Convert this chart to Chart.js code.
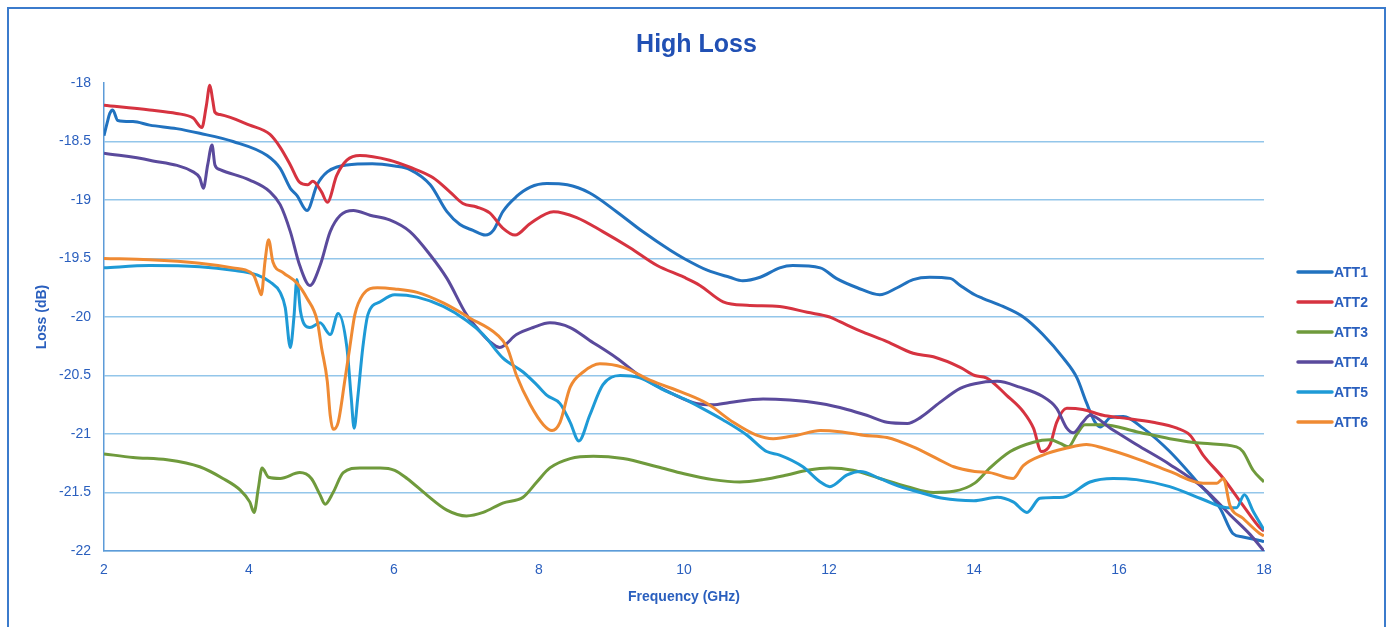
<!DOCTYPE html>
<html>
<head>
<meta charset="utf-8">
<title>High Loss</title>
<script src="https://cdn.jsdelivr.net/npm/chart.js@4.4.1/dist/chart.umd.min.js"></script>
<style>
  html, body { margin: 0; padding: 0; background: #ffffff; }
  #wrap { width: 1393px; height: 627px; }
</style>
</head>
<body>
<div id="wrap"><canvas id="chart" width="1393" height="627"></canvas></div>
<script>
// Measured insertion loss of six attenuators, frequency in GHz, loss in dB.
const seriesNames = ['ATT1', 'ATT2', 'ATT3', 'ATT4', 'ATT5', 'ATT6'];
const xTicks = [2, 4, 6, 8, 10, 12, 14, 16, 18];
const yTicks = [-18, -18.5, -19, -19.5, -20, -20.5, -21, -21.5, -22];

const att1Freq = [2.0, 2.04, 2.08, 2.12, 2.19, 2.4, 2.63, 3.0, 3.32, 3.78, 4.25, 4.43, 4.57, 4.66, 4.8, 4.94, 5.08, 5.35, 5.7, 6.01, 6.22, 6.5, 6.73, 6.91, 7.09, 7.26, 7.37, 7.5, 7.69, 7.88, 8.11, 8.39, 8.7, 9.07, 9.43, 9.81, 10.0, 10.32, 10.63, 10.81, 11.05, 11.32, 11.5, 11.88, 12.1, 12.39, 12.7, 12.94, 13.16, 13.39, 13.67, 13.81, 14.01, 14.12, 14.4, 14.68, 14.95, 15.23, 15.42, 15.55, 15.67, 15.74, 15.88, 16.06, 16.33, 16.7, 17.08, 17.39, 17.57, 17.71, 17.94, 18.0];
const att1Loss = [-18.45, -18.35, -18.26, -18.23, -18.32, -18.33, -18.36, -18.39, -18.43, -18.5, -18.62, -18.73, -18.9, -18.96, -19.09, -18.87, -18.76, -18.7, -18.69, -18.71, -18.74, -18.87, -19.1, -19.21, -19.26, -19.3, -19.26, -19.1, -18.97, -18.89, -18.86, -18.87, -18.94, -19.1, -19.27, -19.43, -19.5, -19.6, -19.66, -19.69, -19.66, -19.58, -19.56, -19.58, -19.67, -19.75, -19.81, -19.75, -19.68, -19.66, -19.67, -19.73, -19.81, -19.84, -19.91, -20.0, -20.15, -20.35, -20.52, -20.73, -20.9, -20.94, -20.86, -20.85, -20.95, -21.15, -21.41, -21.63, -21.85, -21.88, -21.91, -21.92];

const att2Freq = [2.0, 2.63, 3.0, 3.23, 3.35, 3.41, 3.46, 3.5, 3.53, 3.6, 4.01, 4.29, 4.43, 4.57, 4.7, 4.81, 4.88, 5.0, 5.08, 5.21, 5.35, 5.53, 5.94, 6.22, 6.54, 6.77, 6.95, 7.14, 7.32, 7.5, 7.67, 7.88, 8.2, 8.52, 8.88, 9.26, 9.63, 10.0, 10.22, 10.54, 10.87, 11.32, 11.7, 12.01, 12.15, 12.47, 12.8, 13.16, 13.44, 13.81, 14.01, 14.17, 14.45, 14.68, 14.82, 14.93, 15.05, 15.14, 15.28, 15.5, 15.78, 16.01, 16.47, 16.8, 16.98, 17.16, 17.44, 17.71, 17.94, 18.0];
const att2Loss = [-18.19, -18.23, -18.26, -18.3, -18.38, -18.2, -18.02, -18.15, -18.25, -18.27, -18.36, -18.44, -18.55, -18.7, -18.85, -18.87, -18.84, -18.93, -19.02, -18.79, -18.66, -18.62, -18.66, -18.72, -18.81, -18.93, -19.03, -19.06, -19.11, -19.24, -19.3, -19.2, -19.1, -19.15, -19.27, -19.41, -19.56, -19.66, -19.73, -19.87, -19.9, -19.91, -19.96, -20.0, -20.04, -20.13, -20.21, -20.31, -20.34, -20.43, -20.5, -20.52, -20.67, -20.81, -20.95, -21.15, -21.09, -20.9, -20.78, -20.79, -20.84, -20.86, -20.9, -20.95, -21.01, -21.18, -21.38, -21.61, -21.8, -21.83];

const att3Freq = [2.0, 2.4, 2.87, 3.32, 3.64, 3.88, 4.01, 4.07, 4.13, 4.18, 4.27, 4.43, 4.7, 4.86, 4.98, 5.05, 5.16, 5.3, 5.53, 5.81, 6.01, 6.18, 6.45, 6.73, 7.0, 7.23, 7.5, 7.78, 7.97, 8.15, 8.43, 8.75, 9.16, 9.63, 10.0, 10.4, 10.77, 11.09, 11.42, 11.7, 12.01, 12.33, 12.7, 13.08, 13.44, 13.72, 14.01, 14.22, 14.5, 14.82, 15.05, 15.19, 15.3, 15.42, 15.53, 15.78, 16.24, 16.7, 17.16, 17.62, 17.71, 17.85, 18.0];
const att3Loss = [-21.17, -21.2, -21.22, -21.28, -21.38, -21.48, -21.58, -21.67, -21.46, -21.29, -21.37, -21.38, -21.33, -21.38, -21.52, -21.6, -21.5, -21.33, -21.29, -21.29, -21.31, -21.38, -21.52, -21.65, -21.7, -21.67, -21.59, -21.54, -21.41, -21.29, -21.21, -21.19, -21.21, -21.28, -21.34, -21.39, -21.41, -21.39, -21.35, -21.31, -21.29, -21.31, -21.38, -21.45, -21.5, -21.49, -21.42, -21.29, -21.15, -21.07, -21.05, -21.08, -21.11, -21.0, -20.92, -20.92, -20.98, -21.04, -21.08, -21.11, -21.15, -21.31, -21.41];

const att4Freq = [2.0, 2.63, 3.23, 3.32, 3.37, 3.43, 3.49, 3.53, 3.6, 4.01, 4.29, 4.43, 4.57, 4.7, 4.84, 4.98, 5.12, 5.26, 5.44, 5.67, 5.94, 6.22, 6.5, 6.73, 7.0, 7.14, 7.32, 7.46, 7.69, 7.92, 8.15, 8.43, 8.7, 9.07, 9.43, 9.85, 10.17, 10.4, 10.63, 11.09, 11.46, 11.88, 12.25, 12.52, 12.8, 13.08, 13.26, 13.53, 13.81, 14.01, 14.32, 14.63, 14.95, 15.14, 15.28, 15.37, 15.5, 15.6, 15.88, 16.24, 16.7, 17.16, 17.53, 17.81, 18.0];
const att4Loss = [-18.6, -18.66, -18.76, -18.81, -18.9, -18.7, -18.53, -18.7, -18.74, -18.83, -18.93, -19.04, -19.27, -19.56, -19.73, -19.56, -19.27, -19.13, -19.09, -19.13, -19.17, -19.27, -19.47, -19.67, -19.98, -20.09, -20.21, -20.26, -20.15, -20.09, -20.05, -20.09, -20.2, -20.35, -20.52, -20.66, -20.74, -20.75, -20.73, -20.7, -20.71, -20.74, -20.79, -20.84, -20.9, -20.91, -20.86, -20.73, -20.61, -20.57, -20.55, -20.6, -20.68, -20.78, -20.95, -20.99, -20.9, -20.84, -20.95, -21.09, -21.26, -21.46, -21.69, -21.86, -22.0];

const att5Freq = [2.0, 2.63, 3.32, 3.78, 4.11, 4.29, 4.43, 4.5, 4.57, 4.62, 4.66, 4.71, 4.77, 4.84, 4.98, 5.12, 5.23, 5.35, 5.41, 5.45, 5.5, 5.57, 5.64, 5.81, 6.01, 6.32, 6.68, 7.0, 7.23, 7.5, 7.78, 7.97, 8.11, 8.29, 8.43, 8.55, 8.7, 8.88, 9.12, 9.39, 9.71, 10.0, 10.22, 10.54, 10.87, 11.14, 11.32, 11.64, 11.88, 12.01, 12.25, 12.43, 12.7, 12.98, 13.26, 13.57, 14.0, 14.32, 14.54, 14.73, 14.91, 15.23, 15.6, 15.92, 16.24, 16.7, 17.16, 17.49, 17.62, 17.73, 17.85, 18.0];
const att5Loss = [-19.58, -19.56, -19.57, -19.6, -19.64, -19.7, -19.79, -19.92, -20.26, -20.0, -19.68, -19.95, -20.07, -20.09, -20.05, -20.15, -19.97, -20.26, -20.69, -20.95, -20.69, -20.26, -19.98, -19.87, -19.81, -19.83, -19.91, -20.03, -20.15, -20.35, -20.47, -20.58, -20.67, -20.74, -20.9, -21.06, -20.84, -20.58, -20.5, -20.52, -20.62, -20.7, -20.77, -20.88, -21.01, -21.15, -21.18, -21.28, -21.41, -21.45, -21.35, -21.32, -21.38, -21.45, -21.5, -21.55, -21.57, -21.54, -21.58, -21.67, -21.55, -21.54, -21.41, -21.38, -21.39, -21.45, -21.56, -21.63, -21.63, -21.52, -21.66, -21.82];

const att6Freq = [2.0, 2.63, 3.32, 3.78, 4.06, 4.13, 4.17, 4.22, 4.27, 4.33, 4.47, 4.66, 4.8, 4.94, 5.0, 5.08, 5.12, 5.16, 5.23, 5.32, 5.39, 5.46, 5.57, 5.77, 6.01, 6.32, 6.68, 7.05, 7.42, 7.56, 7.69, 7.88, 8.06, 8.18, 8.29, 8.43, 8.61, 8.84, 9.16, 9.53, 10.0, 10.32, 10.68, 11.0, 11.23, 11.56, 11.88, 12.15, 12.47, 12.8, 13.16, 13.49, 13.72, 14.01, 14.22, 14.54, 14.68, 14.95, 15.28, 15.55, 15.78, 16.24, 16.7, 17.16, 17.35, 17.44, 17.53, 17.71, 17.94, 18.0];
const att6Loss = [-19.5, -19.51, -19.54, -19.58, -19.64, -19.75, -19.81, -19.53, -19.34, -19.53, -19.62, -19.71, -19.84, -20.03, -20.26, -20.55, -20.84, -20.96, -20.9, -20.55, -20.26, -19.98, -19.81, -19.75, -19.76, -19.79, -19.88, -20.01, -20.15, -20.26, -20.5, -20.75, -20.92, -20.97, -20.9, -20.6, -20.47, -20.4, -20.43, -20.54, -20.65, -20.74, -20.9, -21.01, -21.04, -21.01, -20.97, -20.98, -21.01, -21.03, -21.11, -21.21, -21.28, -21.32, -21.33, -21.38, -21.27, -21.18, -21.12, -21.09, -21.12, -21.21, -21.32, -21.42, -21.42, -21.38, -21.61, -21.72, -21.85, -21.87];

const seriesFreq = [att1Freq, att2Freq, att3Freq, att4Freq, att5Freq, att6Freq];
const seriesLoss = [att1Loss, att2Loss, att3Loss, att4Loss, att5Loss, att6Loss];
const seriesColors = ['#2172bf', '#d63340', '#6f9a3c', '#5a4a9c', '#1e9ad6', '#ef8a33'];

const FONT = "'Liberation Sans', Arial, sans-serif";
const TEXT_BLUE = '#2a5fbe';
const TITLE_BLUE = '#2150b4';
const GRID_BLUE = '#93c6ea';
const AXIS_BLUE = '#5d9bd8';

const datasets = seriesNames.map((name, i) => ({
  label: name,
  data: seriesFreq[i].map((f, j) => ({ x: f, y: seriesLoss[i][j] })),
  borderColor: seriesColors[i],
  backgroundColor: seriesColors[i],
  borderWidth: 3,
  pointRadius: 0,
  fill: false,
  cubicInterpolationMode: 'monotone',
  order: 6 - i
}));

// Outer frame of the chart box.
const framePlugin = {
  id: 'frame',
  beforeDraw(chart) {
    const c = chart.ctx;
    c.save();
    c.fillStyle = '#ffffff';
    c.fillRect(0, 0, chart.width, chart.height);
    c.strokeStyle = '#3b7bcc';
    c.lineWidth = 2;
    c.strokeRect(8, 8, chart.width - 16, chart.height + 20);
    c.restore();
  }
};

// Legend drawn as short line samples next to the series names.
const lineLegendPlugin = {
  id: 'lineLegend',
  afterDraw(chart) {
    const c = chart.ctx;
    const area = chart.chartArea;
    const x0 = area.right + 34;
    const y0 = area.top + 189;
    c.save();
    c.font = 'bold 14px ' + FONT;
    c.textBaseline = 'middle';
    c.textAlign = 'left';
    chart.data.datasets.forEach((ds, i) => {
      const y = y0 + i * 30;
      c.strokeStyle = ds.borderColor;
      c.lineWidth = 3.5;
      c.lineCap = 'round';
      c.beginPath();
      c.moveTo(x0, y);
      c.lineTo(x0 + 34, y);
      c.stroke();
      c.fillStyle = TEXT_BLUE;
      c.fillText(ds.label, x0 + 36, y + 1);
    });
    c.restore();
  }
};

new Chart(document.getElementById('chart'), {
  type: 'line',
  data: { datasets },
  plugins: [framePlugin, lineLegendPlugin],
  options: {
    responsive: false,
    animation: false,
    events: [],
    layout: { padding: { left: 0, right: 0, top: 0, bottom: 0 } },
    plugins: {
      legend: { display: false },
      tooltip: { enabled: false },
      title: {
        display: true,
        text: 'High Loss',
        color: TITLE_BLUE,
        font: { family: FONT, size: 25, weight: 'bold' },
        padding: { top: 30, bottom: 23 }
      }
    },
    scales: {
      x: {
        type: 'linear',
        min: 2,
        max: 18,
        afterBuildTicks(scale) { scale.ticks = xTicks.map(v => ({ value: v })); },
        afterFit(scale) { scale.height = 76; },
        ticks: { color: TEXT_BLUE, font: { family: FONT, size: 14 }, padding: 11, callback: (v) => String(v) },
        grid: { color: 'rgba(0,0,0,0)', drawTicks: false },
        border: { display: true, color: AXIS_BLUE, width: 1.5 },
        title: {
          display: true,
          text: 'Frequency (GHz)',
          color: TEXT_BLUE,
          font: { family: FONT, size: 14, weight: 'bold' },
          padding: { top: 0, bottom: 21 }
        }
      },
      y: {
        type: 'linear',
        min: -22,
        max: -18,
        afterBuildTicks(scale) { scale.ticks = yTicks.map(v => ({ value: v })); },
        afterFit(scale) { scale.width = 104; },
        ticks: { color: TEXT_BLUE, font: { family: FONT, size: 14 }, padding: 13, callback: (v) => String(v) },
        grid: {
          color: (ctx) => (ctx.tick && ctx.tick.value === -18) ? 'rgba(0,0,0,0)' : GRID_BLUE,
          lineWidth: 1.5,
          drawTicks: false
        },
        border: { display: true, color: AXIS_BLUE, width: 1.5 },
        title: {
          display: true,
          text: 'Loss (dB)',
          color: TEXT_BLUE,
          font: { family: FONT, size: 14, weight: 'bold' },
          padding: { top: 34, bottom: 0 }
        }
      },
      // Empty right-hand strip that holds the legend.
      legendSpace: {
        type: 'linear',
        position: 'right',
        display: true,
        min: 0,
        max: 1,
        afterFit(scale) { scale.width = 129; },
        ticks: { display: false },
        grid: { display: false, drawTicks: false },
        border: { display: false }
      }
    }
  }
});
</script>
</body>
</html>
